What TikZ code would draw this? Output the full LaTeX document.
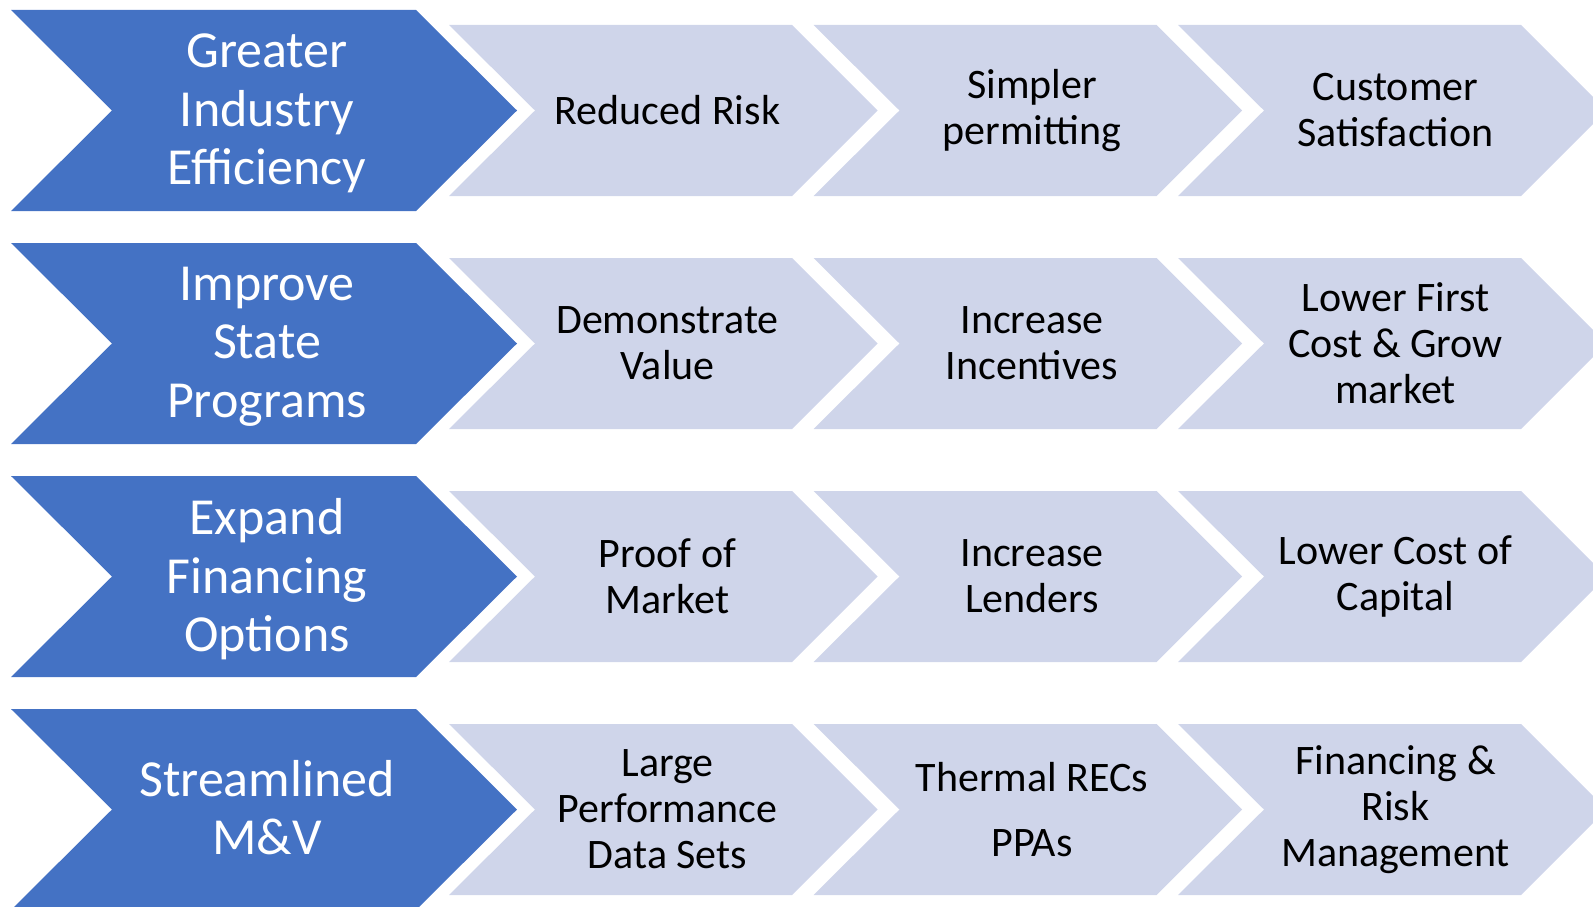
\documentclass[tikz,border=0pt]{standalone}
\usepackage{fontspec}
\setmainfont{Carlito}
\definecolor{chevblue}{HTML}{4472C4}
\definecolor{chevlight}{HTML}{CFD5EA}
\tikzset{
  bluetext/.style={align=center, text=white, inner sep=0pt, font=\fontsize{52}{58.5}\selectfont},
  lighttext/.style={align=center, text=black, inner sep=0pt, font=\fontsize{42}{46}\selectfont},
}
\newcommand{\bluechev}[1]{%
  \fill[chevblue] (11,#1) -- (416,#1) -- (517,#1+100.5) -- (416,#1+201) -- (11,#1+201) -- (112,#1+100.5) -- cycle;}
\newcommand{\lightchev}[2]{%
  \fill[chevlight] (#1,#2) -- (#1+343,#2) -- (#1+428.5,#2+85.5) -- (#1+343,#2+171) -- (#1,#2+171) -- (#1+86,#2+85.5) -- cycle;}
\begin{document}
\begin{tikzpicture}[x=1pt,y=-1pt]
\useasboundingbox (0,0) rectangle (1593,907);
\clip (0,0) rectangle (1593,907);
\foreach \r in {0,1,2,3}{
  \pgfmathsetmacro{\bt}{10+233*\r}
  \pgfmathsetmacro{\lt}{25+233*\r}
  \bluechev{\bt}
  \lightchev{449}{\lt}
  \lightchev{813.5}{\lt}
  \lightchev{1178}{\lt}
}
% row 1
\node[bluetext] (b1) at (267,113.5) {Greater\\Industry\\Efficiency};
\node[lighttext] (l11) at (667.5,110.5) {Reduced Risk};
\node[lighttext] (l12) at (1032,110.5) {Simpler\\permitting};
\node[lighttext] (l13) at (1395.5,110.5) {Customer\\Satisfaction};
% row 2
\node[bluetext] (b2) at (267,346.5) {Improve\\State\\Programs};
\node[lighttext] (l21) at (667.5,343.5) {Demonstrate\\Value};
\node[lighttext] (l22) at (1032,343.5) {Increase\\Incentives};
\node[lighttext] (l23) at (1395.5,343.5) {Lower First\\Cost \& Grow\\market};
% row 3
\node[bluetext] (b3) at (267,579.5) {Expand\\Financing\\Options};
\node[lighttext] (l31) at (667.5,576.5) {Proof of\\Market};
\node[lighttext] (l32) at (1032,576.5) {Increase\\Lenders};
\node[lighttext] (l33) at (1395.5,576.5) {Lower Cost of\\Capital};
% row 4
\node[bluetext] (b4) at (267,807.5) {Streamlined\\M\&V};
\node[lighttext] (l41) at (667.5,809.5) {Large\\Performance\\Data Sets};
\node[lighttext] (l42) at (1032,809.5) {Thermal RECs\\[19pt]PPAs};
\node[lighttext] (l43) at (1395.5,809.5) {Financing \&\\Risk\\Management};
\end{tikzpicture}
\end{document}
